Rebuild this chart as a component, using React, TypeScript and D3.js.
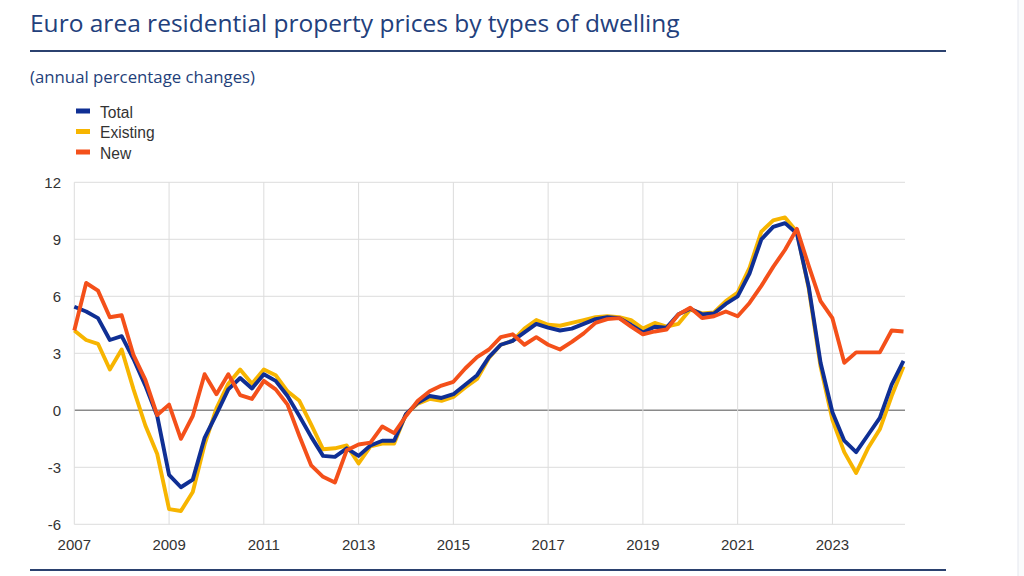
import React from "react";
import * as d3 from "d3";

const startYear = 2007;
const yTicks = [-6, -3, 0, 3, 6, 9, 12];
const xTickYears = [2007, 2009, 2011, 2013, 2015, 2017, 2019, 2021, 2023];

const total = [
  5.45, 5.2, 4.85, 3.7, 3.9, 2.7, 1.3, -0.3,
  -3.4, -4.05, -3.65, -1.45, -0.2, 1.1, 1.7, 1.15,
  1.9, 1.55, 0.75, -0.3, -1.4, -2.4, -2.45, -2.0,
  -2.4, -1.85, -1.6, -1.6, -0.2, 0.4, 0.75, 0.65,
  0.85, 1.35, 1.85, 2.8, 3.45, 3.65, 4.1, 4.55,
  4.35, 4.2, 4.3, 4.55, 4.8, 4.9, 4.85, 4.5,
  4.1, 4.4, 4.35, 5.05, 5.35, 5.05, 5.1, 5.6,
  6.0, 7.2, 9.0, 9.65, 9.85, 9.3, 6.5, 2.5,
  -0.1, -1.6, -2.2, -1.3, -0.4, 1.35, 2.6,
];

const existing = [
  4.2, 3.7, 3.5, 2.15, 3.2, 1.1, -0.8, -2.3,
  -5.2, -5.3, -4.3, -1.8, 0.1, 1.4, 2.15, 1.4,
  2.15, 1.85, 1.0, 0.5, -0.75, -2.05, -2.0, -1.85,
  -2.8, -1.9, -1.75, -1.75, -0.2, 0.35, 0.6, 0.5,
  0.7, 1.2, 1.65, 2.75, 3.45, 3.65, 4.3, 4.75,
  4.5, 4.45, 4.6, 4.75, 4.9, 4.95, 4.9, 4.75,
  4.3, 4.6, 4.4, 4.55, 5.3, 5.1, 5.15, 5.75,
  6.2, 7.5, 9.4, 10.0, 10.15, 9.4, 6.4, 2.3,
  -0.5, -2.2, -3.3, -2.0, -1.0, 0.75, 2.3,
];

const newDwellings = [
  4.2, 6.7, 6.3, 4.9, 5.0, 2.9, 1.6, -0.25,
  0.3, -1.5, -0.3, 1.9, 0.85, 1.9, 0.8, 0.6,
  1.55, 1.1, 0.3, -1.35, -2.9, -3.5, -3.8, -2.1,
  -1.8, -1.7, -0.85, -1.2, -0.3, 0.5, 1.0, 1.3,
  1.5, 2.2, 2.8, 3.2, 3.85, 4.0, 3.45, 3.85,
  3.45, 3.2, 3.6, 4.05, 4.6, 4.8, 4.85, 4.4,
  4.0, 4.15, 4.25, 5.05, 5.4, 4.85, 4.95, 5.2,
  4.95, 5.65, 6.55, 7.55, 8.45, 9.55, 7.6, 5.75,
  4.85, 2.5, 3.05, 3.05, 3.05, 4.2, 4.15,
];

const seriesNames = ["Total", "Existing", "New"];
const seriesColors = ["#0f2f94", "#f7b500", "#f4501a"];

export default function App() {
  const W = 1024;
  const H = 576;
  const left = 74.3;
  const right = 903.5;
  const top = 182.3;
  const bottom = 524.3;

  const n = total.length;
  const lastX = startYear + (n - 1) / 4;
  const x = d3.scaleLinear().domain([startYear, lastX]).range([left, right]);
  const y = d3.scaleLinear().domain([-6, 12]).range([bottom, top]);

  const line = d3
    .line<number>()
    .x((_, i) => x(startYear + i / 4))
    .y((d) => y(d));

  const data = [total, existing, newDwellings];
  const drawOrder = [1, 0, 2];
  const font = "'Liberation Sans', Arial, sans-serif";
  const titleFont = "'Open Sans', sans-serif";

  return (
    <svg
      width={W}
      height={H}
      style={{ position: "absolute", left: 0, top: 0, background: "#fff" }}
    >
      <rect x={0} y={0} width={W} height={H} fill="#fff" />
      <rect x={1018} y={0} width={6} height={H} fill="#fafbfc" />
      <line x1={1018} x2={1018} y1={0} y2={H} stroke="#e4e7ee" strokeWidth={1} />

      <text x={30} y={32} fontFamily={titleFont} fontSize={24.5} fill="#22407c">
        Euro area residential property prices by types of dwelling
      </text>
      <line x1={30} x2={946} y1={51} y2={51} stroke="#2b416f" strokeWidth={2} />
      <text x={30} y={83} fontFamily={titleFont} fontSize={16.8} fill="#1f3f7a">
        (annual percentage changes)
      </text>

      {seriesNames.map((name, i) => (
        <g key={name}>
          <rect x={76} y={108.5 + i * 20.5} width={14} height={5} fill={seriesColors[i]} />
          <text x={100} y={117.5 + i * 20.5} fontFamily={font} fontSize={15.6} fill="#333">
            {name}
          </text>
        </g>
      ))}

      {yTicks.map((t) => (
        <g key={t}>
          <line
            x1={left}
            x2={right + 1.5}
            y1={y(t)}
            y2={y(t)}
            stroke={t === 0 ? "#8a8a8a" : "#dcdcdc"}
            strokeWidth={t === 0 ? 1.6 : 1}
          />
          <text
            x={61}
            y={y(t)}
            dy="0.35em"
            textAnchor="end"
            fontFamily={font}
            fontSize={15}
            fill="#333"
          >
            {t}
          </text>
        </g>
      ))}

      {xTickYears.map((yr) => (
        <g key={yr}>
          <line x1={x(yr)} x2={x(yr)} y1={top} y2={bottom} stroke="#dcdcdc" strokeWidth={1} />
          <text
            x={x(yr)}
            y={550}
            textAnchor="middle"
            fontFamily={font}
            fontSize={15}
            fill="#333"
          >
            {yr}
          </text>
        </g>
      ))}

      {drawOrder.map((si) => (
        <path
          key={si}
          d={line(data[si]) || ""}
          fill="none"
          stroke={seriesColors[si]}
          strokeWidth={3.9}
          strokeLinejoin="round"
          strokeLinecap="butt"
        />
      ))}

      <line x1={30} x2={946} y1={570} y2={570} stroke="#2b416f" strokeWidth={2} />
    </svg>
  );
}
